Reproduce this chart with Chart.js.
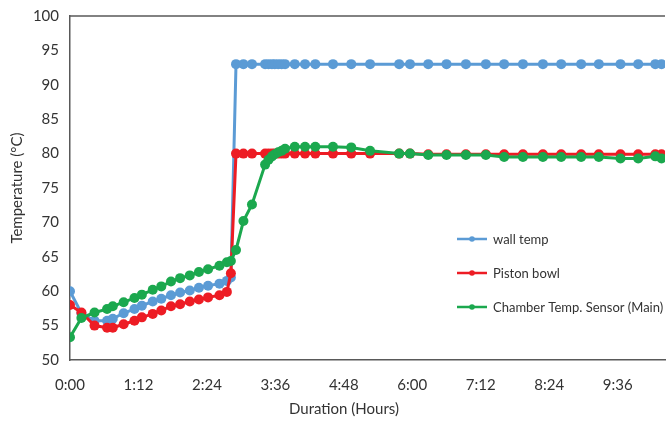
<!DOCTYPE html>
<html>
<head>
<meta charset="utf-8">
<title>Temperature vs Duration</title>
<script src="https://cdn.jsdelivr.net/npm/chart.js@4.4.1/dist/chart.umd.min.js"></script>
<style>
  html, body { margin: 0; padding: 0; background: #fff; overflow: hidden; }
  #wrap { width: 670px; height: 425px; position: relative; }
</style>
</head>
<body>
<div id="wrap"><canvas id="chart" width="670" height="425"></canvas></div>
<script>
// time of each reading, in hours (shared by all three sensors)
const timeHours = [
  0, 0.2, 0.43, 0.65, 0.75, 0.94, 1.13, 1.26, 1.45, 1.6, 1.77, 1.93, 2.1, 2.26, 2.42, 2.62, 2.75, 2.82,
  2.91, 3.04, 3.19, 3.42, 3.48, 3.54, 3.59, 3.65, 3.71, 3.77, 3.94, 4.12, 4.3, 4.61, 4.93, 5.26,
  5.77, 5.96, 6.28, 6.6, 6.94, 7.29, 7.61, 7.94, 8.29, 8.61, 8.96, 9.27, 9.65, 9.96, 10.26, 10.37
]

const wallTemp = [
  60.0, 56.8, 55.7, 55.7, 56.0, 56.8, 57.4, 57.9, 58.5, 58.9, 59.4, 59.8, 60.1, 60.5, 60.8, 61.1, 61.5, 62.0,
  93.0, 93.0, 93.0, 93.0, 93.0, 93.0, 93.0, 93.0, 93.0, 93.0, 93.0, 93.0, 93.0, 93.0, 93.0, 93.0,
  93.0, 93.0, 93.0, 93.0, 93.0, 93.0, 93.0, 93.0, 93.0, 93.0, 93.0, 93.0, 93.0, 93.0, 93.0, 93.0
]

const pistonBowl = [
  58.0, 56.9, 55.0, 54.7, 54.7, 55.2, 55.7, 56.2, 56.7, 57.2, 57.8, 58.1, 58.5, 58.8, 59.1, 59.4, 59.9, 62.6,
  80.0, 80.0, 80.0, 80.0, 80.0, 80.0, 80.0, 80.0, 80.0, 80.0, 80.0, 80.0, 80.0, 80.0, 80.0, 80.0,
  80.0, 80.0, 79.9, 79.9, 79.9, 79.9, 79.9, 79.9, 79.9, 79.9, 79.9, 79.9, 79.9, 79.9, 79.9, 79.9
]

const chamberSensor = [
  53.3, 56.1, 56.9, 57.4, 57.8, 58.4, 59.0, 59.5, 60.2, 60.7, 61.4, 61.9, 62.3, 62.8, 63.2, 63.7, 64.2, 64.4,
  66.0, 70.2, 72.6, 78.4, 79.1, 79.6, 79.9, 80.2, 80.4, 80.7, 81.0, 81.0, 81.0, 81.0, 80.9, 80.4,
  80.0, 80.0, 79.8, 79.8, 79.8, 79.8, 79.5, 79.5, 79.5, 79.5, 79.5, 79.5, 79.3, 79.3, 79.6, 79.3
]

const xTickHours = [0, 1.2, 2.4, 3.6, 4.8, 6.0, 7.2, 8.4, 9.6]
const yTicks = [50, 55, 60, 65, 70, 75, 80, 85, 90, 95, 100]

const seriesNames = ["wall temp", "Piston bowl", "Chamber Temp. Sensor (Main)"]
const seriesColors = ["#5B9BD5", "#ED1C24", "#1BA84E"]

const textColor = "#333333"
const axisColor = "#595959"
const fontFamily = "Lato, 'Open Sans', sans-serif"

function toPoints(values) {
  return values.map((v, i) => ({ x: timeHours[i], y: v }))
}

function fmtHours(h) {
  const mins = Math.round(h * 60)
  return Math.floor(mins / 60) + ":" + String(mins % 60).padStart(2, "0")
}

// top border of the plot area, x-axis title and the legend inside the plot
const extrasPlugin = {
  id: "extras",
  afterDraw(chart) {
    const ctx = chart.ctx
    const area = chart.chartArea
    ctx.save()
    ctx.strokeStyle = axisColor
    ctx.lineWidth = 1.5
    ctx.beginPath()
    ctx.moveTo(area.left, area.top)
    ctx.lineTo(area.right, area.top)
    ctx.stroke()

    ctx.fillStyle = textColor
    ctx.font = "15px " + fontFamily
    ctx.textAlign = "center"
    ctx.textBaseline = "middle"
    ctx.fillText("Duration (Hours)", 344, 409)

    // legend
    const lx = 457, ly = 239, gap = 34
    ctx.font = "13px " + fontFamily
    ctx.textAlign = "left"
    seriesNames.forEach((name, i) => {
      const y = ly + i * gap
      ctx.strokeStyle = seriesColors[i]
      ctx.lineWidth = 2.5
      ctx.beginPath()
      ctx.moveTo(lx, y)
      ctx.lineTo(lx + 30, y)
      ctx.stroke()
      ctx.fillStyle = seriesColors[i]
      ctx.beginPath()
      ctx.arc(lx + 15, y, 2.8, 0, Math.PI * 2)
      ctx.fill()
      ctx.fillStyle = textColor
      ctx.fillText(name, lx + 36, y + 1)
    })
    ctx.restore()
  },
}

const datasetValues = [wallTemp, pistonBowl, chamberSensor]

const ctx = document.getElementById("chart").getContext("2d")
new Chart(ctx, {
  type: "line",
  data: {
    datasets: datasetValues.map((vals, i) => ({
      label: seriesNames[i],
      data: toPoints(vals),
      borderColor: seriesColors[i],
      backgroundColor: seriesColors[i],
      pointBackgroundColor: seriesColors[i],
      pointBorderColor: seriesColors[i],
      borderWidth: 3,
      pointRadius: 5,
      pointBorderWidth: 0,
      tension: 0,
      fill: false,
      order: 3 - i,
    })),
  },
  options: {
    responsive: false,
    animation: false,
    layout: { padding: { top: 16, right: 0, left: 0, bottom: 0 } },
    plugins: {
      legend: { display: false },
      tooltip: { enabled: false },
    },
    scales: {
      x: {
        type: "linear",
        min: 0,
        max: 10.43,
        grid: { display: false, drawTicks: false },
        border: { display: true, color: axisColor, width: 1.5 },
        afterBuildTicks: (scale) => {
          scale.ticks = xTickHours.map((v) => ({ value: v }))
        },
        afterFit: (scale) => {
          scale.height = 65
          scale.paddingLeft = 0
          scale.paddingRight = 0
        },
        ticks: {
          padding: 16,
          color: textColor,
          font: { family: fontFamily, size: 15 },
          maxRotation: 0,
          autoSkip: false,
          callback: (v) => fmtHours(v),
        },
      },
      y: {
        min: 50,
        max: 100,
        grid: { display: false, drawTicks: false },
        border: { display: true, color: axisColor, width: 1.5 },
        afterBuildTicks: (scale) => {
          scale.ticks = yTicks.map((v) => ({ value: v }))
        },
        afterFit: (scale) => {
          scale.width = 70
          scale.paddingTop = 0
          scale.paddingBottom = 0
        },
        ticks: {
          padding: 11,
          color: textColor,
          font: { family: fontFamily, size: 15 },
        },
        title: {
          display: true,
          text: "Temperature (°C)",
          color: textColor,
          font: { family: fontFamily, size: 15 },
          padding: { top: 8, bottom: 0 },
        },
      },
    },
  },
  plugins: [extrasPlugin],
})
</script>
</body>
</html>
